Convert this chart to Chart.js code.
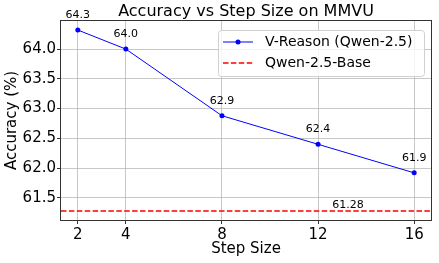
<!DOCTYPE html>
<html>
<head>
<meta charset="utf-8">
<script src="https://cdn.jsdelivr.net/npm/chart.js@4.4.1/dist/chart.umd.min.js"></script>
<style>
    html, body { margin: 0; padding: 0; background: #fff; }
    canvas { display: block; }
</style>
</head>
<body>
<canvas id="accChart" width="439" height="263"></canvas>
<script>
// Data
const stepSizes = [2, 4, 8, 12, 16];
const vReasonAcc = [64.32, 64.0, 62.88, 62.4, 61.92];
const baselineAcc = 61.28;
const baselineLabelStep = 13.25;

const xTicks = [2, 4, 8, 12, 16];
const yTicks = [61.5, 62.0, 62.5, 63.0, 63.5, 64.0];
const xRange = [1.3, 16.7];
const yRange = [61.128, 64.472];

const FONT = 'DejaVu Sans';
const gridColor = 'rgba(176, 176, 176, 0.7)';
const spineColor = '#333';

/**
 * Value labels above points and above the baseline
 */
const valueLabels = {
    id: 'valueLabels',
    afterDatasetsDraw(chart) {
        const ctx = chart.ctx;
        const meta = chart.getDatasetMeta(0);
        ctx.save();
        ctx.font = '11px "' + FONT + '"';
        ctx.fillStyle = '#000';
        ctx.textAlign = 'center';
        ctx.textBaseline = 'middle';
        meta.data.forEach((pt, i) => {
            ctx.fillText(vReasonAcc[i].toFixed(1), pt.x, pt.y - 15);
        });
        const x = chart.scales.x.getPixelForValue(baselineLabelStep);
        const y = chart.scales.y.getPixelForValue(baselineAcc);
        ctx.fillText(baselineAcc.toFixed(2), x, y - 6);
        ctx.restore();
    }
};

/**
 * Axes frame (all four spines), title and boxed legend
 */
const frameAndLegend = {
    id: 'frameAndLegend',
    afterDraw(chart) {
        const ctx = chart.ctx;
        const a = chart.chartArea;
        ctx.save();

        // spines
        ctx.strokeStyle = spineColor;
        ctx.lineWidth = 1;
        ctx.strokeRect(Math.round(a.left) - 0.5, Math.round(a.top) - 0.5,
            Math.round(a.right - a.left) + 1, Math.round(a.bottom - a.top) + 1);

        // title
        ctx.fillStyle = '#000';
        ctx.font = '16px "' + FONT + '"';
        ctx.textAlign = 'center';
        ctx.textBaseline = 'middle';
        ctx.fillText('Accuracy vs Step Size on MMVU', (a.left + a.right) / 2, 12);

        // legend box
        const bx = 218.5, by = 30.5, bw = 206, bh = 46, r = 3;
        ctx.beginPath();
        ctx.moveTo(bx + r, by);
        ctx.arcTo(bx + bw, by, bx + bw, by + bh, r);
        ctx.arcTo(bx + bw, by + bh, bx, by + bh, r);
        ctx.arcTo(bx, by + bh, bx, by, r);
        ctx.arcTo(bx, by, bx + bw, by, r);
        ctx.closePath();
        ctx.fillStyle = 'rgba(255, 255, 255, 0.8)';
        ctx.fill();
        ctx.strokeStyle = '#d0d0d0';
        ctx.stroke();

        const rows = chart.data.datasets;
        const rowY = [42, 63];
        rows.forEach((ds, i) => {
            const y = rowY[i];
            ctx.beginPath();
            ctx.strokeStyle = ds.borderColor;
            ctx.lineWidth = ds.borderWidth;
            ctx.setLineDash(ds.borderDash || []);
            ctx.moveTo(223, y);
            ctx.lineTo(253, y);
            ctx.stroke();
            ctx.setLineDash([]);
            if (ds.pointRadius > 0) {
                ctx.beginPath();
                ctx.fillStyle = ds.backgroundColor;
                ctx.arc(238, y, ds.pointRadius, 0, Math.PI * 2);
                ctx.fill();
            }
            ctx.fillStyle = '#000';
            ctx.font = '14px "' + FONT + '"';
            ctx.textAlign = 'left';
            ctx.textBaseline = 'middle';
            ctx.fillText(ds.label, 265, y);
        });
        ctx.restore();
    }
};

const ctx = document.getElementById('accChart');
new Chart(ctx, {
    type: 'line',
    data: {
        datasets: [
            {
                label: 'V-Reason (Qwen-2.5)',
                data: stepSizes.map((s, i) => ({ x: s, y: vReasonAcc[i] })),
                borderColor: '#0000ff',
                backgroundColor: '#0000ff',
                borderWidth: 1,
                pointRadius: 2.5,
                pointBorderWidth: 0,
                tension: 0
            },
            {
                label: 'Qwen-2.5-Base',
                data: xRange.map(x => ({ x: x, y: baselineAcc })),
                borderColor: '#ff0000',
                backgroundColor: '#ff0000',
                borderWidth: 1.5,
                borderDash: [5.5, 2.4],
                pointRadius: 0,
                tension: 0
            }
        ]
    },
    options: {
        responsive: false,
        animation: false,
        layout: {
            padding: { top: 21, right: 8, left: 0, bottom: 0 }
        },
        plugins: {
            legend: { display: false },
            title: { display: false },
            tooltip: { enabled: false }
        },
        scales: {
            x: {
                type: 'linear',
                min: xRange[0],
                max: xRange[1],
                afterBuildTicks: (scale) => {
                    scale.ticks = xTicks.map(v => ({ value: v }));
                },
                afterFit: (scale) => { scale.height = 43; },
                border: { display: false },
                grid: {
                    color: gridColor,
                    lineWidth: 1,
                    tickLength: 4,
                    tickColor: spineColor
                },
                ticks: {
                    color: '#000',
                    padding: 2,
                    maxRotation: 0,
                    font: { family: FONT, size: 15 },
                    callback: (v) => String(v)
                },
                title: {
                    display: true,
                    text: 'Step Size',
                    color: '#000',
                    font: { family: FONT, size: 15 },
                    padding: { top: 0, bottom: 5 }
                }
            },
            y: {
                min: yRange[0],
                max: yRange[1],
                afterBuildTicks: (scale) => {
                    scale.ticks = yTicks.map(v => ({ value: v }));
                },
                afterFit: (scale) => { scale.width = 61; },
                border: { display: false },
                grid: {
                    color: gridColor,
                    lineWidth: 1,
                    tickLength: 4,
                    tickColor: spineColor
                },
                ticks: {
                    color: '#000',
                    padding: 1,
                    font: { family: FONT, size: 15 },
                    callback: (v) => v.toFixed(1)
                },
                title: {
                    display: true,
                    text: 'Accuracy (%)',
                    color: '#000',
                    font: { family: FONT, size: 15 },
                    padding: { top: 3, bottom: 0 }
                }
            }
        }
    },
    plugins: [valueLabels, frameAndLegend]
});
</script>
</body>
</html>
